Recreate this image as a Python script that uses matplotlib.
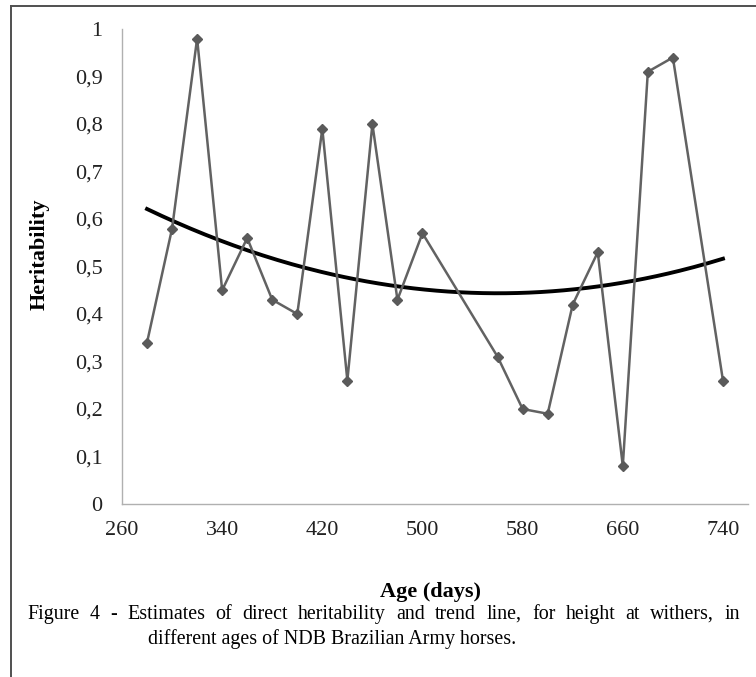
import numpy as np
import matplotlib.pyplot as plt
from matplotlib.lines import Line2D

# age (days) and direct heritability estimates
age = [280, 300, 320, 340, 360, 380, 400, 420, 440, 460, 480, 500,
       560, 580, 600, 620, 640, 660, 680, 700, 740]
h2 = [0.34, 0.58, 0.98, 0.45, 0.56, 0.43, 0.40, 0.79, 0.26, 0.80, 0.43, 0.57,
      0.31, 0.20, 0.19, 0.42, 0.53, 0.08, 0.91, 0.94, 0.26]
xticks = [260, 340, 420, 500, 580, 660, 740]
yticks = [0, 0.1, 0.2, 0.3, 0.4, 0.5, 0.6, 0.7, 0.8, 0.9, 1]
ylabels = ['0', '0,1', '0,2', '0,3', '0,4', '0,5', '0,6', '0,7', '0,8', '0,9', '1']
caption1 = 'Figure 4 - Estimates of direct heritability and trend line, for height at withers, in'
caption2 = 'different ages of NDB Brazilian Army horses.'

plt.rcParams['font.family'] = ['Liberation Serif', 'DejaVu Serif']

W, H = 756, 677
fig = plt.figure(figsize=(W / 100, H / 100), dpi=100)

# outer frame (top and left edges only are visible)
fig.add_artist(Line2D([11 / W, 11 / W], [0, 1 - 6 / H], transform=fig.transFigure,
                      color='#505050', lw=1.4))
fig.add_artist(Line2D([11 / W, 1], [1 - 6 / H, 1 - 6 / H], transform=fig.transFigure,
                      color='#505050', lw=1.4))

ax = fig.add_axes([122 / W, (H - 504) / H, (748 - 122) / W, (504 - 29) / H])

# quadratic trend line fitted to the estimates
coef = np.polyfit(age, h2, 2)
xs = np.linspace(min(age), max(age), 200)
ax.plot(xs, np.polyval(coef, xs), color='black', lw=2.8, zorder=2)

ax.plot(age, h2, color='#626262', lw=1.8, marker='D', markersize=5.5,
        markerfacecolor='#5a5a5a', markeredgecolor='#5a5a5a', zorder=3)

ax.set_xlim(260, 760)
ax.set_ylim(0, 1)
ax.set_xticks(xticks)
ax.set_xticklabels([str(t) for t in xticks])
ax.set_yticks(yticks)
ax.set_yticklabels(ylabels)
ax.tick_params(axis='both', length=0, labelsize=16, colors='#222222')
ax.tick_params(axis='y', pad=14)
ax.tick_params(axis='x', pad=12)
for s in ['top', 'right']:
    ax.spines[s].set_visible(False)
for s in ['left', 'bottom']:
    ax.spines[s].set_color('#b0b0b0')
    ax.spines[s].set_linewidth(1.0)

fig.text(40 / W, 1 - 254 / H, 'Heritability', rotation=90, ha='center', va='center',
         fontsize=16, fontweight='bold')
fig.text(431 / W, 1 - 592 / H, 'Age (days)', ha='center', va='center',
         fontsize=16, fontweight='bold')

# caption: first line justified between x=27 and x=740
fs = 14.4
renderer = fig.canvas.get_renderer()
words = caption1.split()
widths = []
for w in words:
    t = fig.text(0, 0, w, fontsize=fs)
    widths.append(t.get_window_extent(renderer).width)
    t.remove()
gap = (740 - 27 - sum(widths)) / (len(words) - 1)
xpos = 27
for w, wd in zip(words, widths):
    fig.text(xpos / W, 1 - 619 / H, w, ha='left', va='baseline', fontsize=fs)
    xpos += wd + gap
fig.text(148 / W, 1 - 644 / H, caption2, ha='left', va='baseline', fontsize=fs)

fig.savefig('out.png', dpi=100)
